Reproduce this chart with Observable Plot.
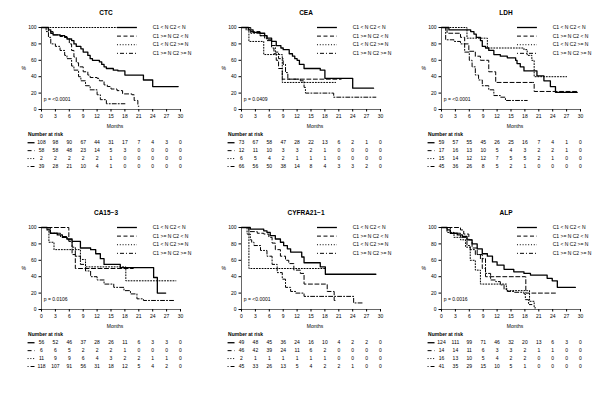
<!DOCTYPE html>
<html><head><meta charset="utf-8">
<script src="https://cdn.jsdelivr.net/npm/d3@7"></script>
<script src="https://cdn.jsdelivr.net/npm/@observablehq/plot@0.6"></script>
<style>
body{margin:0;background:#fff;}
#fig{position:relative;width:600px;height:400px;font-family:"Liberation Sans",Arial,sans-serif;}
.panel{position:absolute;width:200px;height:200px;}
.panel svg{display:block;overflow:visible;}
</style></head><body><div id="fig"></div>
<script>
// ---------- data ----------
const monthTicks = [0,3,6,9,12,15,18,21,24,27,30];
const pctTicks = [0,20,40,60,80,100];
const groupLabels = ["C1 < N C2 < N","C1 >= N C2 < N","C1 < N C2 >= N","C1 >= N C2 >= N"];
const panelTitles = ["CTC","CEA","LDH","CA15\u22123","CYFRA21\u22121","ALP"];
const pLabels = ["p = <0.0001","p = 0.0409","p = <0.0001","p = 0.0106","p = <0.0001","p = 0.0016"];

// survival curves [month, %] per group
const ctcCurves = [
  [[0,100],[1.5,97],[2,93],[2.5,91],[4,90],[5,88],[5.5,86],[6.5,84],[7,80],[7.5,77],[8.5,74],[9,70],[10,66],[10.5,62],[11,60],[12.5,58],[13,55],[13.5,52],[14,50],[15.5,48],[16.5,47],[18,42],[22,36],[24,28],[29.5,28]],
  [[0,100],[1.5,95],[2.5,91],[4,89],[5.5,87],[6,80],[6.5,72],[7,64],[7.5,57],[8,52],[9,46],[10,42],[10.5,39],[12,38],[12.5,35],[13.5,30],[14.2,28],[15,25],[16.3,23],[17.5,19],[19.5,18],[20,11],[20.8,4],[21,4]],
  [[0,100],[16.5,100]],
  [[0,100],[1,95],[1.5,88],[2,80],[3,77],[4,72],[5,66],[5.5,62],[6.5,53],[7,48],[8,40],[8.5,35],[9.5,29],[10.5,24],[12,18],[12.7,12],[14,7],[18,7]]
];
const ceaCurves = [
  [[0,100],[1.5,97],[2.5,94],[4,93],[5,90],[5.5,87],[6.5,83],[7.5,78],[8.5,75],[9,73],[10,73],[10.3,68],[11,65],[11.5,62],[12,60],[12.5,55],[13.5,50],[16.7,50],[17,48],[18,38],[24,26],[28.5,26]],
  [[0,100],[2,95],[4,90],[5.5,85],[6.5,75],[7,68],[7.5,60],[8,50],[8.8,37],[21.5,37]],
  [[0,100],[1.6,83],[4.8,67],[8.8,33],[20.3,33]],
  [[0,100],[1,97],[2,93],[4,90],[5,87],[5.5,84],[6.5,78],[7.3,70],[8,62],[9,55],[9.5,45],[10,37],[12.7,35],[13.5,27],[13.8,20],[19.9,15],[29,15]]
];
const ldhCurves = [
  [[0,100],[1.6,97],[6.3,95],[7,92],[7.5,88],[8.4,84],[8.8,77],[9.5,75],[10.2,72],[11.3,67],[12.7,65],[14.2,63],[16,60],[16.3,56],[17,52],[17.8,47],[20.3,47],[20.6,41],[22.1,35],[23.5,28],[24.6,21],[29.3,21]],
  [[0,100],[1.2,93],[4.1,88],[5,80],[5.9,71],[7.3,65],[8.4,60],[10.2,46],[11.7,33],[19.6,33],[20,22],[29.3,22]],
  [[0,100],[5.5,87],[9.9,75],[17.8,73],[18.5,66],[19.5,60],[20,40],[27,40]],
  [[0,100],[0.9,85],[2.7,83],[4.1,80],[5,70],[6,60],[6.6,52],[7.3,42],[8,36],[8.8,29],[10.2,24],[11.3,17],[12.7,15],[13.8,11],[18.5,11]]
];
const ca153Curves = [
  [[0,100],[1.2,97],[1.9,93],[3.4,91],[4.5,88],[5.5,86],[6.6,83],[8,83],[8.4,75],[10.6,73],[11.7,68],[12.7,62],[13.5,55],[16.7,55],[17,51],[23.9,51],[24.2,39],[25,20],[26.8,20]],
  [[0,100],[5.9,83],[6.6,67],[7.3,50],[19.8,50]],
  [[0,100],[1.6,82],[2.7,73],[7.3,73],[8.4,61],[9.5,52],[18.1,52],[18.2,35],[29,35]],
  [[0,100],[1.9,93],[4.1,89],[5.5,85],[6.6,76],[7.3,65],[8.4,55],[9.5,47],[10.6,40],[12,36],[13.5,31],[15.6,27],[17.8,23],[19.2,19],[20.6,13],[22,11],[28.5,11]]
];
const cyfraCurves = [
  [[0,100],[1.9,98],[4.1,98],[4.8,96],[5.5,94],[6.2,90],[7.3,86],[8.4,82],[9.1,78],[9.9,74],[10.6,70],[12.7,70],[13,64],[13.5,57],[16.7,57],[17,52],[17.8,52],[18.1,43],[29,43]],
  [[0,100],[1.6,95],[3.4,93],[4.8,92],[5.9,88],[6.6,81],[7.3,73],[8.4,65],[9.5,60],[10.2,56],[11.3,48],[12.7,44],[13.5,31],[18.1,31],[18.5,22],[20,11],[20.3,11]],
  [[0,100],[1.6,50],[18.1,50]],
  [[0,100],[1.2,92],[1.9,85],[2.2,82],[2.7,78],[4.1,72],[5.5,65],[6.6,55],[7.7,45],[8.8,37],[9.5,27],[10.6,22],[11.7,20],[12.7,20],[13.5,16],[23.9,16],[24.2,8],[26.4,8]]
];
const alpCurves = [
  [[0,100],[1.2,97],[1.9,93],[3.4,91],[4.5,89],[5.5,85],[6.6,80],[7.7,74],[8.8,68],[9.9,65],[11,58],[12,54],[13.5,49],[15.6,46],[17.8,44],[19.2,42],[21.4,42],[22.8,38],[23.9,35],[25,27],[28.9,27]],
  [[0,100],[3.7,100],[4.1,97],[4.8,92],[5.9,85],[6.6,75],[7.7,67],[8.8,50],[9.5,40],[18.1,40],[18.2,20],[25,20]],
  [[0,100],[1.2,94],[2.7,88],[4.1,85],[5.2,76],[6.2,60],[7.3,48],[8.4,31],[13.5,31],[14,23],[18.5,23],[19,10],[20,2],[20.3,2]],
  [[0,100],[1.9,93],[4.1,88],[5.5,78],[6.2,73],[7.3,67],[8.4,62],[9.5,44],[10.6,36],[11.7,34],[12.7,30],[13.5,25],[14.2,22],[15.6,21],[17.8,19],[18.1,12],[18.8,6],[19.5,6]]
];

// numbers at risk at months 0,3,...,30
const ctcRisk = [[108,98,90,67,44,31,17,7,4,3,0],[58,58,48,23,14,5,3,0,0,0,0],[2,2,2,2,2,1,0,0,0,0,0],[39,28,21,10,4,1,0,0,0,0,0]];
const ceaRisk = [[73,67,58,47,28,22,13,6,2,1,0],[12,11,10,3,3,2,1,0,0,0,0],[6,5,4,2,1,1,1,0,0,0,0],[66,56,50,38,14,8,4,3,3,2,0]];
const ldhRisk = [[59,57,55,45,26,25,16,7,4,1,0],[17,16,13,10,5,4,3,2,2,1,0],[15,14,12,12,7,5,5,2,1,0,0],[45,36,26,8,5,2,1,0,0,0,0]];
const ca153Risk = [[56,52,46,37,28,26,11,6,3,3,0],[6,6,5,2,2,2,1,0,0,0,0],[11,9,9,6,4,3,2,2,1,1,0],[118,107,91,56,31,18,12,5,4,2,0]];
const cyfraRisk = [[49,48,45,36,24,16,10,4,2,2,0],[46,42,39,24,11,6,2,0,0,0,0],[2,1,1,1,1,1,1,0,0,0,0],[45,33,26,13,5,4,2,2,1,0,0]];
const alpRisk = [[124,111,99,71,46,32,20,13,6,3,0],[14,14,11,6,3,3,2,1,1,0,0],[16,13,10,5,4,2,2,0,0,0,0],[41,35,29,15,10,5,1,0,0,0,0]];

const allCurves = [ctcCurves, ceaCurves, ldhCurves, ca153Curves, cyfraCurves, alpCurves];
const allRisk = [ctcRisk, ceaRisk, ldhRisk, ca153Risk, cyfraRisk, alpRisk];

// ---------- styling ----------
const FONT = "Liberation Sans, Arial, Helvetica, sans-serif";
const lineStyles = [
  {dash: null, w: 1.3},
  {dash: "4,2.5", w: 1},
  {dash: "1,1.8", w: 1},
  {dash: "1,2,4,2", w: 1}
];

function kmPlot(title, curves, pLabel) {
  const legendRows = groupLabels.map((label, i) => ({label, i, y: 100 - i * 10.5}));
  const marks = [
    Plot.ruleX([0], {y1: 0, y2: 100, stroke: "#000", strokeWidth: 0.6}),
    Plot.ruleY([0], {x1: 0, x2: 30, stroke: "#000", strokeWidth: 0.6}),
    Plot.axisX({ticks: monthTicks, tickSize: 2.5, tickPadding: 2, label: null, fontSize: 5}),
    Plot.axisY({ticks: pctTicks, tickSize: 2.5, tickPadding: 2.5, label: null, fontSize: 5}),
    ...curves.map((c, g) => Plot.line(c, {
      x: d => d[0], y: d => d[1], curve: "step-after",
      stroke: "#000", strokeWidth: lineStyles[g].w,
      strokeDasharray: lineStyles[g].dash
    })),
    ...legendRows.map(r => Plot.ruleY([r.y], {x1: 16.4, x2: 20.7, stroke: "#000",
      strokeWidth: lineStyles[r.i].w, strokeDasharray: lineStyles[r.i].dash})),
    Plot.text(legendRows, {x: 24, y: "y", text: "label", textAnchor: "start", fontSize: 5}),
    Plot.text([pLabel], {x: 0.5, y: 12, text: d => d, textAnchor: "start", fontSize: 5}),
    Plot.text([title], {frameAnchor: "top", dy: -17, dx: -5, text: d => d, fontWeight: "bold", fontSize: 6.5}),
    Plot.text(["%"], {frameAnchor: "left", dx: -20, text: d => d, fontSize: 5}),
    Plot.text(["Months"], {frameAnchor: "bottom", dy: 18, dx: 4, text: d => d, fontSize: 5})
  ];
  return Plot.plot({
    width: 200, height: 130,
    marginLeft: 41, marginRight: 20, marginTop: 27, marginBottom: 21,
    style: {fontFamily: FONT, fontSize: "5px", background: "transparent", overflow: "visible"},
    x: {domain: [0, 30]},
    y: {domain: [0, 100]},
    marks
  });
}

function riskTable(risk) {
  const cells = risk.flatMap((row, g) => row.map((n, k) => ({m: monthTicks[k], n, g: g + 1})));
  const sym = risk.map((_, g) => ({g: g + 1}));
  return Plot.plot({
    width: 200, height: 70,
    marginLeft: 41, marginRight: 20, marginTop: 0, marginBottom: 0,
    style: {fontFamily: FONT, fontSize: "5px", background: "transparent", overflow: "visible"},
    x: {domain: [0, 30], axis: null},
    y: {domain: [0, 4], range: [4.3, 36], axis: null},
    marks: [
      Plot.text(["Number at risk"], {x: -2.9, y: 0, text: d => d, textAnchor: "start", fontWeight: "bold", fontSize: 5}),
      ...sym.map(s => Plot.ruleY([s.g], {x1: -2.9, x2: -1.4, stroke: "#000",
        strokeWidth: lineStyles[s.g - 1].w, strokeDasharray: lineStyles[s.g - 1].dash})),
      Plot.text(cells, {x: "m", y: "g", text: d => String(d.n), fontSize: 5})
    ]
  });
}

const fig = document.getElementById("fig");
panelTitles.forEach((t, i) => {
  const div = document.createElement("div");
  div.className = "panel";
  div.style.left = (i % 3) * 200 + "px";
  div.style.top = Math.floor(i / 3) * 200 + "px";
  div.appendChild(kmPlot(t, allCurves[i], pLabels[i]));
  div.appendChild(riskTable(allRisk[i]));
  fig.appendChild(div);
});
</script>
</body></html>
